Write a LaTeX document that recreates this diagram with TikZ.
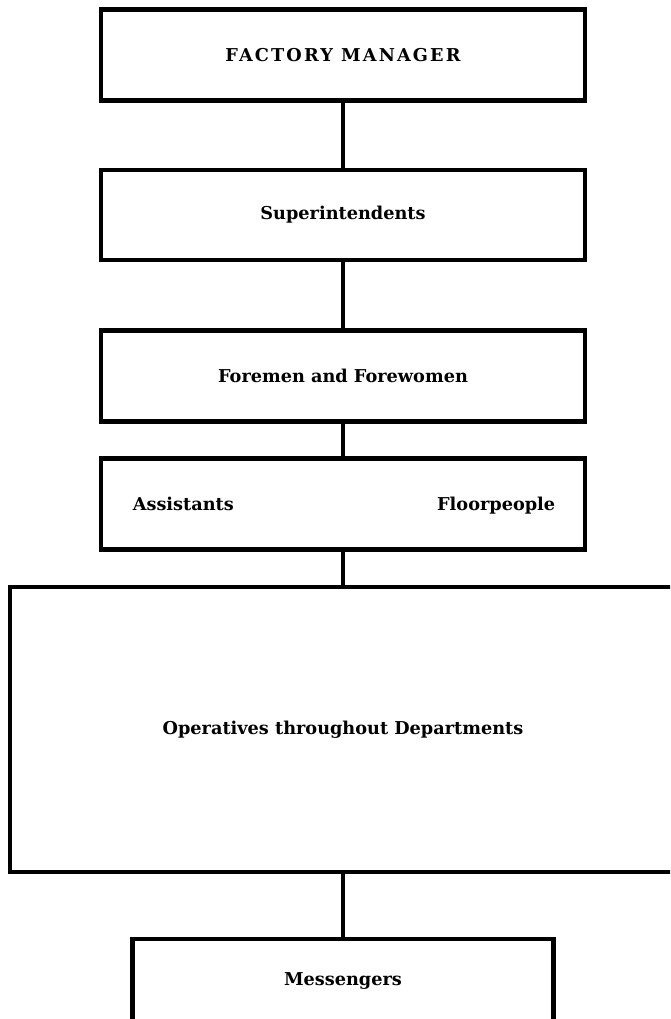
\documentclass[tikz,border=0pt]{standalone}
\usepackage{fontspec}
\setmainfont{DejaVu Serif}
\usetikzlibrary{positioning}

\tikzset{
  rank/.style={draw, line width=4.8pt, inner sep=0pt,
    minimum width=484pt, minimum height=91pt,
    font=\bfseries\fontsize{17.7}{20}\selectfont},
  tag/.style={inner sep=0pt, font=\bfseries\fontsize{17.7}{20}\selectfont},
  link/.style={line width=4.8pt},
}

\begin{document}
\begin{tikzpicture}[x=1pt,y=-1pt]

% page frame (lower boxes run off the page)
\useasboundingbox (0,0) rectangle (670,1019);
\clip (0,0) rectangle (670,1019);

\def\midX{343}

%---------------------------------------
% Ranks
%---------------------------------------
\node[rank] (manager) at (\midX,55)
  {\addfontfeatures{LetterSpace=12}FACTORY MANAGER};
\node[rank, minimum height=90pt] (supers) at (\midX,215) {Superintendents};
\node[rank] (foremen) at (\midX,376) {Foremen and Forewomen};

% assistants and floorpeople share one box
\node[rank] (helpers) at (\midX,504) {};
\coordinate (lineL) at ([xshift=34pt,yshift=-6pt]helpers.west);
\coordinate (lineR) at ([xshift=-32pt,yshift=-6pt]helpers.east);
\node[tag, anchor=base west] (assist) at (lineL) {Assistants};
\node[tag, anchor=base east] (floor) at (lineR) {Floorpeople};

\node[rank, minimum width=666pt, minimum height=285pt] (operatives)
  at (\midX,729.5) {Operatives throughout Departments};
\node[rank, minimum width=421pt, minimum height=84pt] (messengers)
  at (\midX,981) {Messengers};

%---------------------------------------
% Lines of authority
%---------------------------------------
\draw[link] (manager) -- (supers);
\draw[link] (supers) -- (foremen);
\draw[link] (foremen) -- (helpers);
\draw[link] (helpers) -- (operatives);
\draw[link] (operatives) -- (messengers);

\end{tikzpicture}
\end{document}
